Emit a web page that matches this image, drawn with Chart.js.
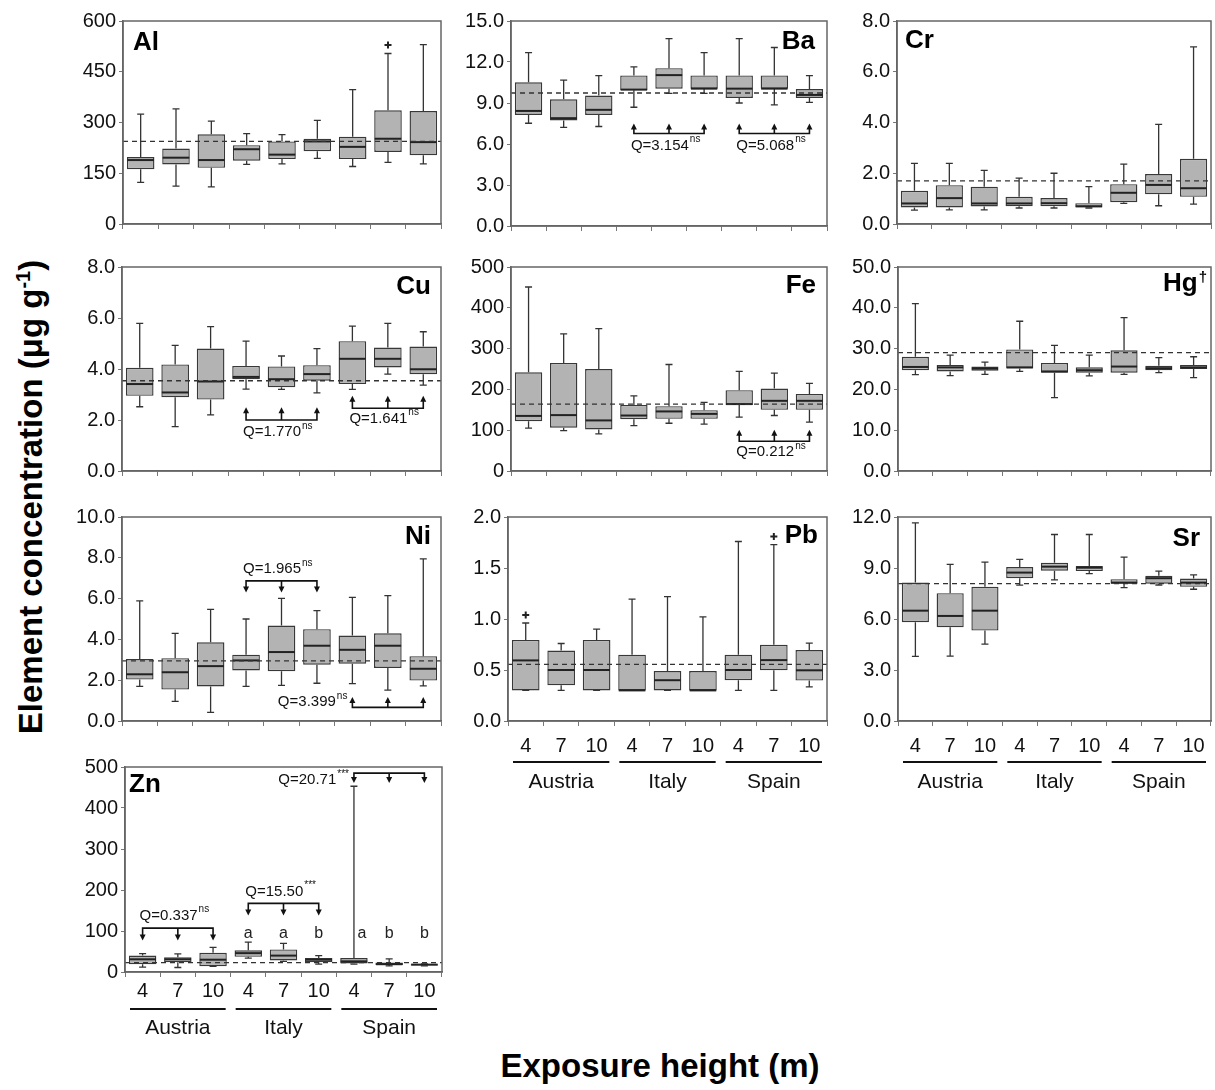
<!DOCTYPE html>
<html>
<head>
<meta charset="utf-8">
<script src="https://cdn.jsdelivr.net/npm/chart.js@4.4.0/dist/chart.umd.min.js"></script>
<style>
  body{margin:0;background:#fff;width:1215px;height:1090px;position:relative;overflow:hidden;font-family:"Liberation Sans",Arial,sans-serif;}
  canvas{position:absolute;}
  #ytitle{position:absolute;left:31px;top:497px;transform:translate(-50%,-50%) rotate(-90deg);font:bold 33px "Liberation Sans",Arial,sans-serif;white-space:nowrap;color:#000;}
  #ytitle sup{font-size:20px;vertical-align:12px;line-height:0;}
  #xtitle{position:absolute;left:660px;top:1066px;transform:translate(-50%,-50%);font:bold 33px "Liberation Sans",Arial,sans-serif;white-space:nowrap;color:#000;}
</style>
</head>
<body>
<div id="ytitle">Element concentration (μg g<sup>-1</sup>)</div>
<div id="xtitle">Exposure height (m)</div>
<script>
// ---------- DATA ----------
const heights = ["4","7","10","4","7","10","4","7","10"];
const countries = ["Austria","Italy","Spain"];
// each entry: [min, q1, median, q3, max] for the 9 site/height groups
const alStats = [[123,162,189,198,325],[112,176,196,223,340],[110,166,189,265,304],[176,187,221,233,267],[178,192,205,244,264],[194,215,244,252,306],[170,192,228,258,397],[182,213,252,336,504],[178,203,242,334,530]];
const baStats = [[7.52,8.13,8.42,10.51,12.69],[7.21,7.72,7.89,9.27,10.68],[7.28,8.13,8.5,9.54,11.0],[8.69,9.93,9.98,11.02,11.65],[9.71,10.05,11.04,11.55,13.71],[9.71,10.05,10.05,11.02,12.69],[9.0,9.37,10.05,11.02,13.71],[8.86,10.05,10.05,11.02,13.06],[9.05,9.37,9.59,10.02,11.0]];
const crStats = [[0.55,0.65,0.81,1.31,2.39],[0.56,0.65,1.02,1.53,2.39],[0.56,0.69,0.81,1.47,2.11],[0.63,0.70,0.81,1.07,1.81],[0.63,0.70,0.82,1.02,2.0],[0.63,0.65,0.70,0.82,1.47],[0.81,0.86,1.23,1.57,2.36],[0.72,1.17,1.54,1.97,3.93],[0.78,1.07,1.41,2.57,6.98]];
const cuStats = [[2.52,2.95,3.41,4.05,5.79],[1.74,2.89,3.08,4.18,4.93],[2.20,2.80,3.51,4.80,5.66],[3.21,3.60,3.69,4.12,5.09],[3.20,3.28,3.60,4.10,4.51],[3.06,3.54,3.80,4.15,4.80],[3.20,3.41,4.40,5.09,5.68],[3.80,4.06,4.40,4.84,5.79],[3.37,3.79,3.99,4.88,5.46]];
const feStats = [[105,122,135,242,451],[99,106,137,265,336],[91,102,124,250,349],[111,127,136,162,184],[117,128,146,159,261],[115,128,140,149,168],[132,162,164,198,244],[136,150,172,202,240],[120,150,172,189,215]];
const hgStats = [[23.6,24.7,25.5,28.0,41.0],[23.4,24.4,25.4,26.0,28.4],[23.7,24.6,25.1,25.6,26.7],[24.4,25.1,25.4,29.8,36.7],[18.0,24.1,24.4,26.5,30.8],[23.3,24.1,24.7,25.4,28.4],[23.7,24.1,25.6,29.6,37.6],[24.1,24.7,25.2,25.8,27.8],[22.9,25.0,25.4,26.0,28.0]];
const niStats = [[1.70,2.03,2.29,3.04,5.89],[0.96,1.54,2.39,3.08,4.30],[0.42,1.69,2.69,3.86,5.47],[1.70,2.48,2.97,3.25,5.0],[1.75,2.44,3.38,4.68,6.01],[1.85,2.76,3.69,4.50,5.41],[1.83,2.81,3.49,4.19,6.06],[1.51,2.60,3.69,4.30,6.15],[1.72,1.98,2.56,3.18,7.95]];
const pbStats = [[0.3,0.3,0.594,0.795,0.961],[0.3,0.35,0.50,0.69,0.76],[0.3,0.3,0.50,0.795,0.90],[0.3,0.3,0.3,0.65,1.195],[0.3,0.3,0.40,0.49,1.22],[0.3,0.3,0.3,0.49,1.02],[0.3,0.40,0.50,0.65,1.76],[0.3,0.497,0.597,0.747,1.73],[0.334,0.396,0.497,0.695,0.763]];
const srStats = [[3.80,5.81,6.49,8.14,11.65],[3.82,5.51,6.18,7.52,9.21],[4.52,5.32,6.49,7.89,9.35],[7.99,8.40,8.73,9.06,9.51],[8.30,8.84,9.08,9.31,10.97],[8.67,8.82,9.02,9.12,10.97],[7.85,8.08,8.14,8.34,9.64],[8.0,8.08,8.40,8.55,8.82],[7.75,7.89,8.14,8.38,8.59]];
const znStats = [[12,19,31,40,45],[11,24,31,36,44],[14,14,30,47,60],[34,37,46,53,73],[26,28,40,55,70],[19,24,30,34,40],[19,21,26,34,453],[15,17,19,23,32],[15,16,18,19,20]];
// overall reference (dashed) values
const alRef = 244, baRef = 9.73, crRef = 1.70, cuRef = 3.54, feRef = 164, hgRef = 29.0, niRef = 2.95, pbRef = 0.555, srRef = 8.08, znRef = 23;
// outliers: [groupIndex, value]
const alOutliers = [[7,529]];
const pbOutliers = [[0,1.04],[7,1.81]];
// y axis maxima and steps
const yMax = {Al:600, Ba:15, Cr:8, Cu:8, Fe:500, Hg:50, Ni:10, Pb:2, Sr:12, Zn:500};
const yStep = {Al:150, Ba:3, Cr:2, Cu:2, Fe:100, Hg:10, Ni:2, Pb:0.5, Sr:3, Zn:100};
// Q-test brackets: [fromIdx, toIdx, lineValue, arrowTipValue, label, superscript, labelValue, labelSide]
const baBrackets = [[3,5,6.77,7.5,"Q=3.154","ns",5.9,"left"],[6,8,6.77,7.5,"Q=5.068","ns",5.9,"left"]];
const cuBrackets = [[3,5,2.0,2.5,"Q=1.770","ns",1.52,"left"],[6,8,2.46,2.95,"Q=1.641","ns",2.05,"left"]];
const feBrackets = [[6,8,73,101,"Q=0.212","ns",46,"left"]];
const niBrackets = [[3,5,6.87,6.3,"Q=1.965","ns",7.45,"left"],[6,8,0.67,1.18,"Q=3.399","ns",0.94,"right"]];
const srBrackets = [[3,5,6.54,7.22,"Q=4.584","ns",6.0,"left"],[6,8,6.54,7.22,"Q=2.787","ns",6.0,"left"]];
const znBrackets = [[0,2,107,77,"Q=0.337","ns",137.6,"left"],[3,5,167.5,137.6,"Q=15.50","***",196.6,"left"],[6,8,485,461,"Q=20.71","***",468,"right"]];
const znLetters = ["","","","a","a","b","a","b","b"];
const znLetterValue = 93;

// ---------- LAYOUT ----------
const FONT = '"Liberation Sans", Arial, sans-serif';
const YW = 64, PT = 14, PR = 4;
const panels = [
  {name:"Al", stats:alStats, ref:alRef, out:alOutliers, dec:0, L:123,R:441,T:20,B:224, lab:{side:"left",dx:10,dy:29}},
  {name:"Ba", stats:baStats, ref:baRef, br:baBrackets, dec:1, L:511,R:827,T:20,B:226, lab:{side:"right",dx:-12,dy:28}},
  {name:"Cr", stats:crStats, ref:crRef, dec:1, L:897,R:1211,T:20,B:224, lab:{side:"left",dx:8,dy:27}},
  {name:"Cu", stats:cuStats, ref:cuRef, br:cuBrackets, dec:1, L:122,R:441,T:266,B:471, lab:{side:"right",dx:-10,dy:27}},
  {name:"Fe", stats:feStats, ref:feRef, br:feBrackets, dec:0, L:511,R:827,T:266,B:471, lab:{side:"right",dx:-11,dy:26}},
  {name:"Hg", sup:"†", stats:hgStats, ref:hgRef, dec:1, L:898,R:1211,T:266,B:471, lab:{side:"right",dx:-4,dy:24}},
  {name:"Ni", stats:niStats, ref:niRef, br:niBrackets, dec:1, L:122,R:441,T:516,B:721, lab:{side:"right",dx:-10,dy:27}},
  {name:"Pb", stats:pbStats, ref:pbRef, out:pbOutliers, dec:1, L:508,R:827,T:516,B:721, lab:{side:"right",dx:-9,dy:26}, xl:{pad:8,line:41,name:61}},
  {name:"Sr", stats:srStats, ref:srRef, dec:1, L:898,R:1211,T:516,B:721, lab:{side:"right",dx:-11,dy:29}, xl:{pad:8,line:41,name:61}},
  {name:"Zn", stats:znStats, ref:znRef, br:znBrackets, letters:znLetters, dec:0, L:125,R:442,T:766,B:972, lab:{side:"left",dx:4,dy:25}, xl:{pad:2,line:37,name:56}}
];

function drawQ(ctx, text, sup, x, y, side){
  ctx.font = '15px ' + FONT;
  const w1 = ctx.measureText(text).width;
  ctx.font = '10px ' + FONT;
  const w2 = ctx.measureText(sup).width;
  let x0 = side === "left" ? x : x - w1 - w2 - 1;
  ctx.textAlign = 'left'; ctx.textBaseline = 'middle';
  ctx.font = '15px ' + FONT;
  ctx.fillText(text, x0, y);
  ctx.font = '10px ' + FONT;
  ctx.fillText(sup, x0 + w1 + 1, y - 6);
}

function arrowHead(ctx, x, ytip, dirDown){
  const h = 6, w = 3;
  ctx.beginPath();
  ctx.moveTo(x, ytip);
  ctx.lineTo(x - w, dirDown ? ytip - h : ytip + h);
  ctx.lineTo(x + w, dirDown ? ytip - h : ytip + h);
  ctx.closePath();
  ctx.fill();
}

function makePlugin(p){
  return {
    id: 'panel' + p.name,
    beforeDatasetsDraw(chart){
      const ctx = chart.ctx, x = chart.scales.x, y = chart.scales.y;
      ctx.save();
      ctx.strokeStyle = '#333'; ctx.lineWidth = 1.3;
      p.stats.forEach((s, i) => {
        const cx = x.getPixelForValue(i);
        const [mn, q1, md, q3, mx] = s;
        ctx.beginPath();
        ctx.moveTo(cx, y.getPixelForValue(q3)); ctx.lineTo(cx, y.getPixelForValue(mx));
        ctx.moveTo(cx, y.getPixelForValue(q1)); ctx.lineTo(cx, y.getPixelForValue(mn));
        [mx, mn].forEach(v => { const py = y.getPixelForValue(v); ctx.moveTo(cx - 3.5, py); ctx.lineTo(cx + 3.5, py); });
        ctx.stroke();
      });
      ctx.restore();
    },
    afterDatasetsDraw(chart){
      const ctx = chart.ctx, x = chart.scales.x, y = chart.scales.y, a = chart.chartArea;
      const meta = chart.getDatasetMeta(0);
      ctx.save();
      // medians
      ctx.strokeStyle = '#222'; ctx.lineWidth = 2;
      p.stats.forEach((s, i) => {
        const el = meta.data[i];
        const hw = el.width / 2 - 0.5;
        const cx = x.getPixelForValue(i);
        const py = y.getPixelForValue(s[2]);
        ctx.beginPath(); ctx.moveTo(cx - hw, py); ctx.lineTo(cx + hw, py); ctx.stroke();
      });
      // reference dashed line
      ctx.setLineDash([5, 4]); ctx.strokeStyle = '#333'; ctx.lineWidth = 1.3;
      const ry = y.getPixelForValue(p.ref);
      ctx.beginPath(); ctx.moveTo(a.left, ry); ctx.lineTo(a.right, ry); ctx.stroke();
      ctx.setLineDash([]);
      // outliers
      if (p.out) {
        ctx.strokeStyle = '#222'; ctx.lineWidth = 2;
        p.out.forEach(([i, v]) => {
          const cx = x.getPixelForValue(i), py = y.getPixelForValue(v);
          ctx.beginPath(); ctx.moveTo(cx - 3.5, py); ctx.lineTo(cx + 3.5, py);
          ctx.moveTo(cx, py - 3.5); ctx.lineTo(cx, py + 3.5); ctx.stroke();
        });
      }
      // brackets
      ctx.fillStyle = '#111'; ctx.strokeStyle = '#111'; ctx.lineWidth = 1.6;
      if (p.br) {
        p.br.forEach(([f, t, lv, tv, txt, sup, labv, side]) => {
          const xf = x.getPixelForValue(f), xt = x.getPixelForValue(t), xm = x.getPixelForValue((f + t) / 2);
          const ly = y.getPixelForValue(lv), ty = y.getPixelForValue(tv);
          const down = ty > ly;
          const stopY = down ? ty - 4 : ty + 4;
          ctx.beginPath();
          ctx.moveTo(xf, stopY); ctx.lineTo(xf, ly); ctx.lineTo(xt, ly); ctx.lineTo(xt, stopY);
          ctx.moveTo(xm, ly); ctx.lineTo(xm, stopY);
          ctx.stroke();
          [xf, xm, xt].forEach(xx => arrowHead(ctx, xx, ty, down));
          drawQ(ctx, txt, sup, side === "left" ? xf - 3 : xf - 5, y.getPixelForValue(labv), side);
        });
      }
      // letters (shifted aside when the whisker passes through them)
      if (p.letters) {
        ctx.font = '16px ' + FONT; ctx.textAlign = 'center'; ctx.textBaseline = 'middle'; ctx.fillStyle = '#222';
        p.letters.forEach((l, i) => {
          if (!l) return;
          const shift = p.stats[i][4] > znLetterValue ? 8 : 0;
          ctx.fillText(l, x.getPixelForValue(i) + shift, y.getPixelForValue(znLetterValue));
        });
      }
      ctx.restore();
    },
    afterDraw(chart){
      const ctx = chart.ctx, x = chart.scales.x, a = chart.chartArea;
      ctx.save();
      // frame
      ctx.strokeStyle = '#666'; ctx.lineWidth = 1.5;
      ctx.strokeRect(a.left, a.top, a.right - a.left, a.bottom - a.top);
      // element label
      ctx.fillStyle = '#000'; ctx.textBaseline = 'alphabetic';
      ctx.font = 'bold 26px ' + FONT;
      const by = a.top + p.lab.dy;
      if (p.lab.side === 'left') {
        ctx.textAlign = 'left'; ctx.fillText(p.name, a.left + p.lab.dx, by);
      } else {
        let xr = a.right + p.lab.dx;
        if (p.sup) {
          ctx.font = 'bold 15px ' + FONT;
          const ws = ctx.measureText(p.sup).width;
          ctx.textAlign = 'right'; ctx.fillText(p.sup, xr, by - 9);
          xr -= ws + 1;
          ctx.font = 'bold 26px ' + FONT;
        }
        ctx.textAlign = 'right'; ctx.fillText(p.name, xr, by);
      }
      // country groups
      if (p.xl) {
        const catW = (x.right - x.left) / heights.length;
        ctx.strokeStyle = '#111'; ctx.lineWidth = 2;
        ctx.font = '21px ' + FONT; ctx.textAlign = 'center'; ctx.textBaseline = 'middle'; ctx.fillStyle = '#111';
        countries.forEach((c, g) => {
          const l = x.getPixelForValue(3 * g) - catW / 2 + 5;
          const r = x.getPixelForValue(3 * g + 2) + catW / 2 - 5;
          const ly = a.bottom + p.xl.line;
          ctx.beginPath(); ctx.moveTo(l, ly); ctx.lineTo(r, ly); ctx.stroke();
          ctx.fillText(c, (l + r) / 2, a.bottom + p.xl.name);
        });
      }
      ctx.restore();
    }
  };
}

panels.forEach(p => {
  const XH = p.xl ? 80 : 16;
  const left = p.L - YW, top = p.T - PT;
  const W = p.R - left + PR, H = p.B - top + XH;
  const cv = document.createElement('canvas');
  cv.width = W; cv.height = H;
  cv.style.left = left + 'px'; cv.style.top = top + 'px';
  cv.style.width = W + 'px'; cv.style.height = H + 'px';
  document.body.appendChild(cv);
  new Chart(cv, {
    type: 'bar',
    data: {
      labels: heights,
      datasets: [{
        data: p.stats.map(s => [s[1], s[3]]),
        backgroundColor: '#b3b3b3',
        borderColor: '#383838',
        borderWidth: 1.4,
        borderSkipped: false,
        barPercentage: 0.78,
        categoryPercentage: 1.0
      }]
    },
    options: {
      responsive: false, animation: false, devicePixelRatio: 1,
      layout: { padding: { top: PT, right: PR, left: 0, bottom: 0 } },
      plugins: { legend: { display: false }, tooltip: { enabled: false } },
      scales: {
        x: {
          type: 'category', offset: true,
          grid: { display: true, drawOnChartArea: false, drawTicks: true, tickLength: 5, offset: true, color: '#777', lineWidth: 1 },
          border: { display: true, color: '#666', width: 1.5 },
          ticks: { display: !!p.xl, font: { size: 20, family: FONT }, color: '#111', padding: p.xl ? p.xl.pad : 0, maxRotation: 0, autoSkip: false },
          afterFit: s => { s.height = XH; }
        },
        y: {
          min: 0, max: yMax[p.name],
          grid: { display: true, drawOnChartArea: false, drawTicks: true, tickLength: 4, color: '#777', lineWidth: 1 },
          border: { display: true, color: '#666', width: 1.5 },
          ticks: { stepSize: yStep[p.name], font: { size: 20, family: FONT }, color: '#111', padding: 3,
                   callback: v => Number(v).toFixed(p.dec) },
          afterFit: s => { s.width = YW; }
        }
      }
    },
    plugins: [makePlugin(p)]
  });
});
</script>
</body>
</html>
